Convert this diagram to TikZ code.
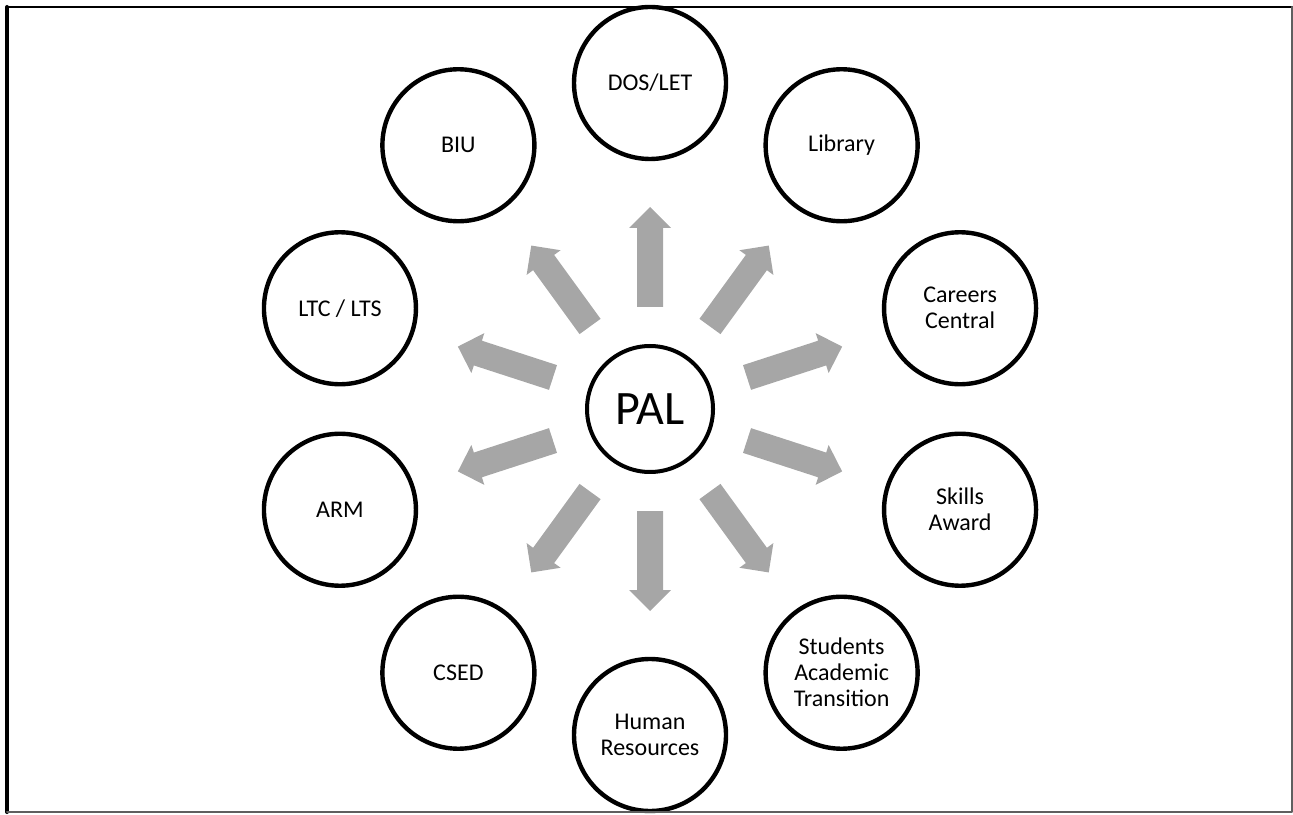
\documentclass[tikz,border=0pt]{standalone}
\usepackage{fontspec}
\setmainfont{Carlito}
\usetikzlibrary{positioning}
\definecolor{arrowgray}{RGB}{166,166,166}
\definecolor{framegray}{RGB}{95,95,95}

\begin{document}
\begin{tikzpicture}[line cap=round,line join=round,x=0.5pt,y=0.5pt,
  unit/.style={circle,draw=black,line width=2.2pt,minimum size=76pt,inner sep=0pt,align=center,font=\fontsize{12}{13}\selectfont},
  hub/.style={circle,draw=black,line width=2pt,minimum size=63pt,inner sep=0pt,font=\fontsize{24}{28}\selectfont},
  blockarrow/.style={fill=arrowgray}]
\clip (0,0) rectangle (1293,814);
\node[hub] (pal) at (650,405) {PAL};
\foreach \ang/\name/\txt in {18/careers/{Careers\\Central},54/library/Library,90/dos/{DOS/LET},126/biu/BIU,162/ltc/{LTC / LTS},198/arm/ARM,234/csed/CSED,270/hr/{Human\\Resources},306/sat/{Students\\Academic\\Transition},342/skills/{Skills\\Award}}
{
\node[unit] (\name) at ([shift={(\ang:326)}]pal.center) {\txt};
\fill[blockarrow,shift={(pal.center)},rotate=\ang] (102,-13) -- (181,-13) -- (181,-21) -- (202,0) -- (181,21) -- (181,13) -- (102,13) -- cycle;
}
\draw [line width=2pt] (7,2) -- (7,807);
\draw [line width=1.3pt] (7,807) -- (1292,807);
\draw [framegray,line width=1pt] (1292,807) -- (1292,2) -- (7,2);
\end{tikzpicture}
\end{document}
